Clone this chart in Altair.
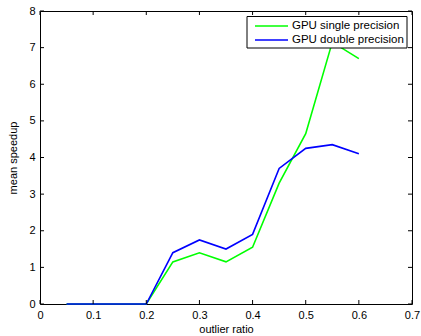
import altair as alt
import pandas as pd

ratio = [0.05, 0.10, 0.15, 0.20, 0.25, 0.30, 0.35, 0.40, 0.45, 0.50, 0.55, 0.60]
single = [0, 0, 0, 0, 1.15, 1.4, 1.15, 1.55, 3.3, 4.65, 7.15, 6.7]
double = [0, 0, 0, 0, 1.4, 1.75, 1.5, 1.9, 3.7, 4.25, 4.35, 4.1]
series = ["GPU single precision", "GPU double precision"]
colors = ["#00ff00", "#0000ff"]
x_ticks = [0, 0.1, 0.2, 0.3, 0.4, 0.5, 0.6, 0.7]
y_ticks = [0, 1, 2, 3, 4, 5, 6, 7, 8]

W, H = 372, 293
FONT = "Liberation Sans"

rows = []
for i, r in enumerate(ratio):
    rows.append({"ratio": r, "speedup": single[i], "series": series[0]})
    rows.append({"ratio": r, "speedup": double[i], "series": series[1]})
df = pd.DataFrame(rows)

xs = alt.Scale(domain=[0, 0.7], nice=False, zero=False)
ys = alt.Scale(domain=[0, 8], nice=False)
cs = alt.Scale(domain=series, range=colors)

xaxis = alt.Axis(values=x_ticks, format=".1~f", title="outlier ratio",
                 tickSize=0, labelPadding=5, titlePadding=3,
                 domain=False, grid=False, labelFlush=False, labelOverlap=False)
yaxis = alt.Axis(values=y_ticks, title="mean speedup", tickSize=0,
                 labelPadding=5, titlePadding=10, domain=False, grid=False,
                 labelOverlap=False)

lines = alt.Chart(df).mark_line(strokeWidth=1.6).encode(
    x=alt.X("ratio:Q", scale=xs, axis=xaxis, title="outlier ratio"),
    y=alt.Y("speedup:Q", scale=ys, axis=yaxis, title="mean speedup"),
    color=alt.Color("series:N", scale=cs, legend=None),
    order=alt.Order("ratio:Q"),
)

xt = pd.DataFrame({"t": x_ticks})
yt = pd.DataFrame({"t": y_ticks})
tl = 4
xb = alt.Chart(xt).mark_rule(color="black").encode(
    x=alt.X("t:Q", scale=xs, axis=xaxis, title="outlier ratio"),
    y=alt.value(H), y2=alt.value(H - tl))
xtop = alt.Chart(xt).mark_rule(color="black").encode(
    x=alt.X("t:Q", scale=xs, axis=xaxis, title="outlier ratio"),
    y=alt.value(0), y2=alt.value(tl))
yl = alt.Chart(yt).mark_rule(color="black").encode(
    y=alt.Y("t:Q", scale=ys, axis=yaxis, title="mean speedup"),
    x=alt.value(0), x2=alt.value(tl))
yr = alt.Chart(yt).mark_rule(color="black").encode(
    y=alt.Y("t:Q", scale=ys, axis=yaxis, title="mean speedup"),
    x=alt.value(W), x2=alt.value(W - tl))

# manual legend box (MATLAB style)
box = alt.Chart(pd.DataFrame({"k": [0]})).mark_rect(
    fill="white", stroke="black", strokeWidth=1).encode(
    x=alt.value(207), x2=alt.value(367), y=alt.value(5.5), y2=alt.value(37))

legend_layers = [box]
for i, s in enumerate(series):
    ld = pd.DataFrame({"series": [s]})
    yy = 15 + 14 * i
    legend_layers.append(
        alt.Chart(ld).mark_rule(strokeWidth=1.6).encode(
            x=alt.value(215), x2=alt.value(248), y=alt.value(yy),
            color=alt.Color("series:N", scale=cs, legend=None)))
    legend_layers.append(
        alt.Chart(ld).mark_text(align="left", baseline="middle", font=FONT,
                                fontSize=11.5, color="black").encode(
            x=alt.value(252), y=alt.value(yy), text="series:N"))

chart = alt.layer(lines, xb, xtop, yl, yr, *legend_layers).properties(
    width=W, height=H,
    autosize=alt.AutoSizeParams(type="none"),
    padding={"left": 40, "top": 11, "right": 9, "bottom": 32},
    background="white",
).configure_view(stroke="black", strokeWidth=1).configure_axis(
    labelFont=FONT, titleFont=FONT, labelFontSize=11, titleFontSize=11,
    labelColor="black", titleColor="black", titleFontWeight="normal",
)

chart.save("out.html", embed_options={"renderer": "svg", "actions": False})
